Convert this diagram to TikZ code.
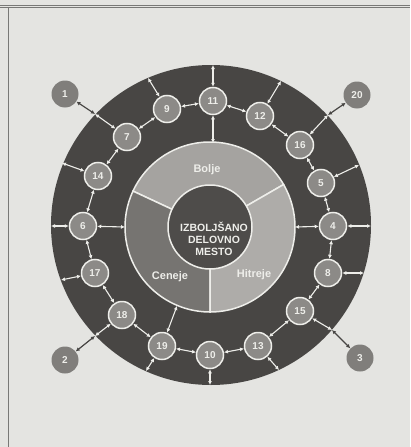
\documentclass[tikz,border=0pt]{standalone}
\usepackage{fontspec}
\setmainfont{Liberation Sans}
\usetikzlibrary{arrows.meta}
\definecolor{bg}{RGB}{228,228,225}
\definecolor{darkring}{RGB}{72,70,68}
\definecolor{smallfill}{RGB}{140,138,135}
\definecolor{outfill}{RGB}{128,126,123}
\definecolor{bolje}{RGB}{165,163,160}
\definecolor{hitreje}{RGB}{174,172,169}
\definecolor{ceneje}{RGB}{118,116,113}
\definecolor{core}{RGB}{78,76,74}
\definecolor{wline}{RGB}{238,238,234}
\definecolor{framec}{RGB}{120,120,118}
\begin{document}
\begin{tikzpicture}[x=1pt,y=-1pt,
  num/.style={circle,fill=smallfill,draw=wline,line width=1.5pt,minimum size=27pt,inner sep=0pt,text=wline,font=\bfseries\fontsize{10}{10}\selectfont},
  outnum/.style={circle,fill=outfill,minimum size=27pt,inner sep=0pt,text=wline,font=\bfseries\fontsize{10}{10}\selectfont},
  link/.style={draw=wline,line width=1.1pt,{Latex[length=4pt,width=4pt]}-{Latex[length=4pt,width=4pt]}},
  outlink/.style={draw=darkring,line width=1.2pt,{Latex[length=4pt,width=4pt]}-{Latex[length=4pt,width=4pt]}},
  lbl/.style={text=wline,font=\bfseries\fontsize{11}{11}\selectfont},
  ctr/.style={text=wline,align=center,font=\bfseries\fontsize{10.5}{11.8}\selectfont}
]
\useasboundingbox (0,0) rectangle (410,447);
\fill[bg] (0,0) rectangle (410,447);
% frame lines
\draw[framec,line width=0.8pt] (0,5) -- (410,5);
\draw[framec,line width=0.8pt] (0,7.5) -- (410,7.5);
\draw[framec,line width=1pt] (8,7.5) -- (8,447);

% big dark disc
\fill[darkring] (211,225) circle[radius=160pt];

% inner ring sectors
\coordinate (rc) at (210,227);
\filldraw[fill=bolje,draw=wline,line width=1.5pt] (rc) -- +(30:85pt) arc[start angle=30,end angle=155,radius=85pt] -- cycle;
\filldraw[fill=ceneje,draw=wline,line width=1.5pt] (rc) -- +(155:85pt) arc[start angle=155,end angle=270,radius=85pt] -- cycle;
\filldraw[fill=hitreje,draw=wline,line width=1.5pt] (rc) -- +(270:85pt) arc[start angle=270,end angle=390,radius=85pt] -- cycle;
\filldraw[fill=core,draw=wline,line width=1.5pt] (rc) circle[radius=42pt];

\node[lbl] (tb) at (207,170) {Bolje};
\node[lbl] (th) at (254,275) {Hitreje};
\node[lbl] (tc) at (170,277) {Ceneje};
\node[ctr] (tm) at (214,239) {IZBOLJŠANO\\DELOVNO\\MESTO};

% numbered circles
\node[num] (n11) at (213,101) {11};
\node[num] (n9)  at (167,109) {9};
\node[num] (n12) at (260,116) {12};
\node[num] (n7)  at (127,137) {7};
\node[num] (n16) at (300,145) {16};
\node[num] (n14) at (98,176) {14};
\node[num] (n5)  at (321,183) {5};
\node[num] (n6)  at (83,226) {6};
\node[num] (n4)  at (333,226) {4};
\node[num] (n17) at (95,273) {17};
\node[num] (n8)  at (328,273) {8};
\node[num] (n18) at (122,315) {18};
\node[num] (n15) at (300,311) {15};
\node[num] (n19) at (162,346) {19};
\node[num] (n10) at (210,355) {10};
\node[num] (n13) at (258,346) {13};

\node[outnum] (n1)  at (65,94) {1};
\node[outnum] (n20) at (357,95) {20};
\node[outnum] (n2)  at (65,360) {2};
\node[outnum] (n3)  at (360,358) {3};

% edge coordinates on the dark disc
\coordinate (e9)  at (148,78);
\coordinate (e11) at (213,65);
\coordinate (e12) at (281,81);
\coordinate (e14) at (62,163);
\coordinate (e6)  at (51,226);
\coordinate (e17) at (61,280);
\coordinate (e5)  at (359,165);
\coordinate (e4)  at (371,226);
\coordinate (e8)  at (364,273);
\coordinate (e13) at (279,370);
\coordinate (e10) at (210,385);
\coordinate (e19) at (146,371);
% crossing points
\coordinate (b1)  at (95,114);
\coordinate (b20) at (328,115);
\coordinate (b2)  at (95,336);
\coordinate (b3)  at (332,330);
% ring points
\coordinate (r11) at (213,143);
\coordinate (r6)  at (125,227);
\coordinate (r4)  at (295,227);
\coordinate (r19) at (177,306);

% chain
\draw[link] (n9) -- (n11);
\draw[link] (n11) -- (n12);
\draw[link] (n12) -- (n16);
\draw[link] (n16) -- (n5);
\draw[link] (n5) -- (n4);
\draw[link] (n4) -- (n8);
\draw[link] (n8) -- (n15);
\draw[link] (n15) -- (n13);
\draw[link] (n13) -- (n10);
\draw[link] (n10) -- (n19);
\draw[link] (n19) -- (n18);
\draw[link] (n18) -- (n17);
\draw[link] (n17) -- (n6);
\draw[link] (n6) -- (n14);
\draw[link] (n14) -- (n7);
\draw[link] (n7) -- (n9);

% from the rim
\draw[link] (e9) -- (n9);
\draw[link] (e11) -- (n11);
\draw[link] (e12) -- (n12);
\draw[link] (e14) -- (n14);
\draw[link] (e6) -- (n6);
\draw[link] (e17) -- (n17);
\draw[link] (e5) -- (n5);
\draw[link] (e4) -- (n4);
\draw[link] (e8) -- (n8);
\draw[link] (e13) -- (n13);
\draw[link] (e10) -- (n10);
\draw[link] (e19) -- (n19);

% to the inner ring
\draw[link] (n11) -- (r11);
\draw[link] (n6) -- (r6);
\draw[link] (n4) -- (r4);
\draw[link] (n19) -- (r19);

% outside circles
\draw[outlink] (n1) -- (b1);
\draw[link] (b1) -- (n7);
\draw[outlink] (n20) -- (b20);
\draw[link] (b20) -- (n16);
\draw[outlink] (n2) -- (b2);
\draw[link] (b2) -- (n18);
\draw[outlink] (n3) -- (b3);
\draw[link] (b3) -- (n15);
\end{tikzpicture}
\end{document}
